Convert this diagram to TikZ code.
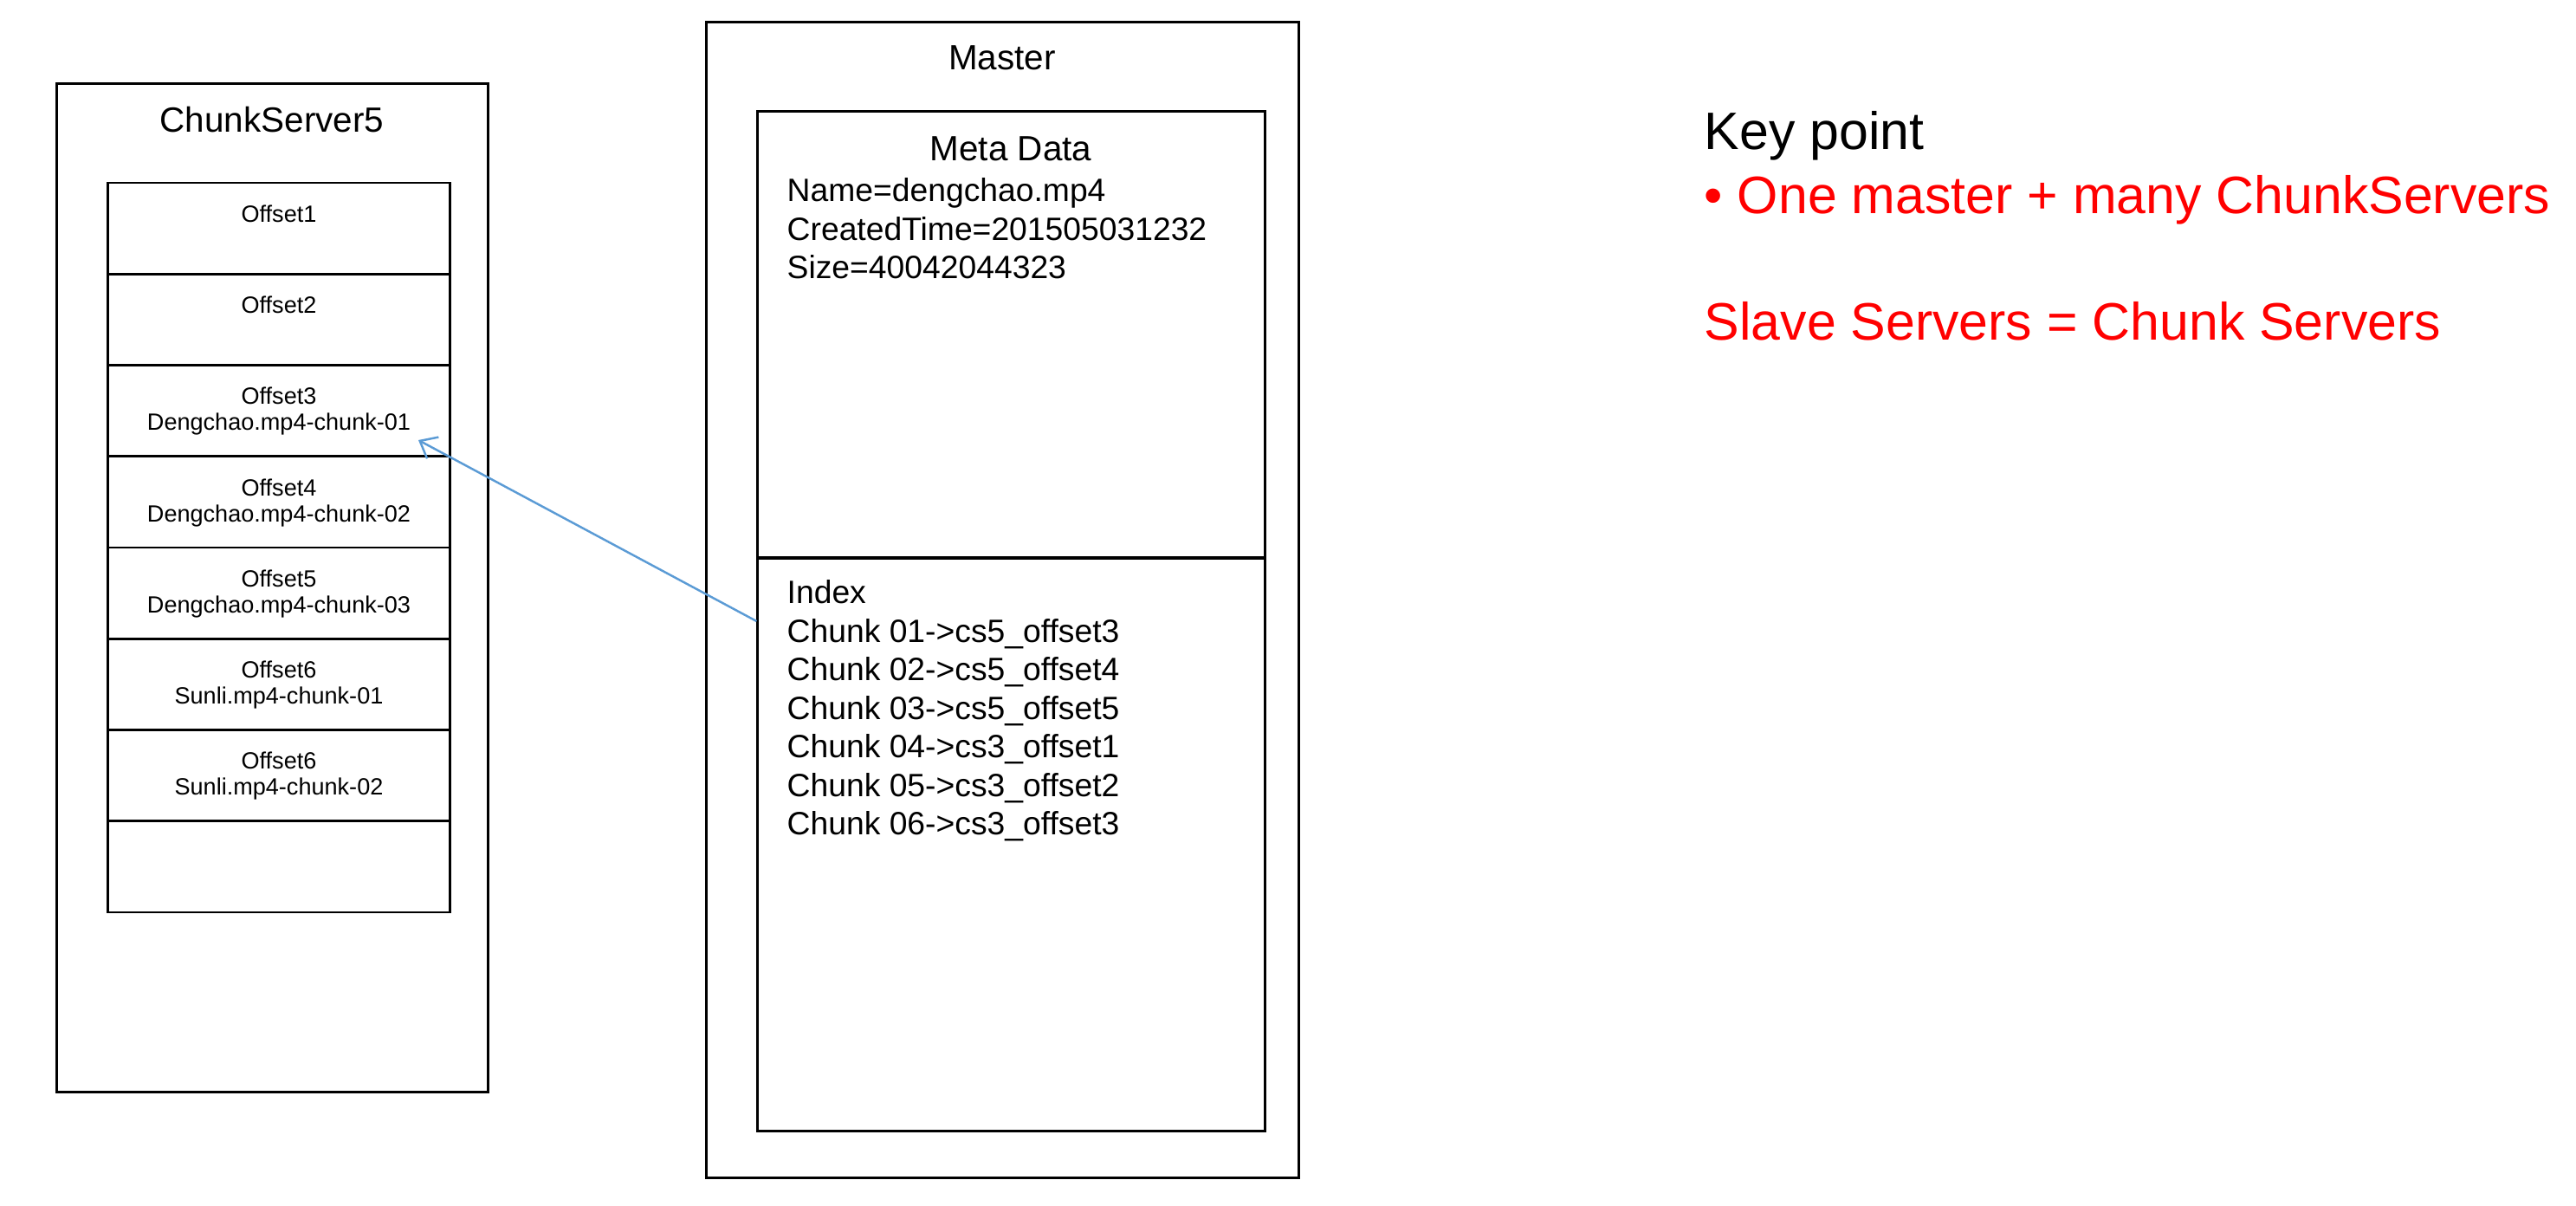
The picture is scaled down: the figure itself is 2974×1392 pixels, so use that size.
\documentclass[tikz,border=0pt]{standalone}
\usepackage{fontspec}
\setmainfont{Liberation Sans}
\usetikzlibrary{arrows.meta}
\definecolor{linkblue}{RGB}{91,155,213}
\definecolor{keyred}{RGB}{255,0,0}
\tikzset{
  box/.style={draw=black, line width=0.8pt, inner sep=0pt},
  titletext/.style={inner sep=0pt, font=\fontsize{11.5}{13.2}\selectfont},
  bodytext/.style={inner sep=0pt, align=left, anchor=north west, font=\fontsize{10.6}{12.66}\selectfont},
  rowtext/.style={inner sep=0pt, align=center, anchor=north, font=\fontsize{7.7}{8.54}\selectfont},
  keytext/.style={inner sep=0pt, anchor=base west, font=\fontsize{17.3}{20}\selectfont},
  link/.style={draw=linkblue, line width=0.7pt, -{Straight Barb[length=1.7mm,width=2.8mm]}}
}
\begin{document}
\begin{tikzpicture}[x=0.01cm,y=-0.01cm]
\useasboundingbox (0,0) rectangle (2974,1392);
% ChunkServer5
\node[box, minimum width=4.97cm, minimum height=11.63cm] (cs) at (314.5,678.5) {};
\node[titletext] (cstitle) at (314,138) {ChunkServer5};
\foreach \i/\txt in {0/{Offset1},1/{Offset2},2/{Offset3\\Dengchao.mp4-chunk-01},3/{Offset4\\Dengchao.mp4-chunk-02},4/{Offset5\\Dengchao.mp4-chunk-03},5/{Offset6\\Sunli.mp4-chunk-01},6/{Offset6\\Sunli.mp4-chunk-02},7/{}}{
  \node[box, minimum width=3.94cm, minimum height=1.0525cm] (row\i) at (322,{211+105.25*(\i+0.5)}) {};
  \node[rowtext] (rowtxt\i) at (322,{211+105.25*\i+25}) {\txt};
}
% Master
\node[box, minimum width=6.83cm, minimum height=13.33cm] (master) at (1157.5,692.5) {};
\node[titletext] (mastertitle) at (1157,67) {Master};
\node[box, minimum width=5.85cm, minimum height=5.15cm] (meta) at (1167.5,386.5) {};
\node[box, minimum width=5.85cm, minimum height=6.61cm] (index) at (1167.5,974.5) {};
\node[titletext] (metatitle) at (1167,172) {Meta Data};
\node[bodytext] (metabody) at (908,205) {Name=dengchao.mp4\\CreatedTime=201505031232\\Size=40042044323};
\node[bodytext] (indexbody) at (908,669) {Index\\Chunk 01->cs5\_offset3\\Chunk 02->cs5\_offset4\\Chunk 03->cs5\_offset5\\Chunk 04->cs3\_offset1\\Chunk 05->cs3\_offset2\\Chunk 06->cs3\_offset3};
% connector
\coordinate (linkstart) at (index.west |- 0,717);
\coordinate (linkend) at (483,508);
\draw[link] (linkstart) -- (linkend);
% key point
\node[keytext] (key) at (1967,173) {Key point};
\node[keytext, text=keyred] (bullet) at (1967,247) {• One master + many ChunkServers};
\node[keytext, text=keyred] (slave) at (1967,393) {Slave Servers = Chunk Servers};
\end{tikzpicture}
\end{document}
